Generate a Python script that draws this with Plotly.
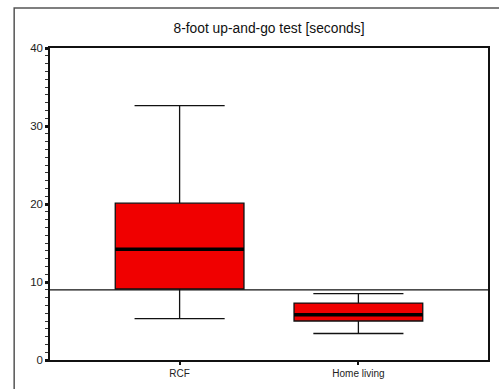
import plotly.graph_objects as go

categories = ["RCF", "Home living"]
lower_whisker = [5.3, 3.4]
q1 = [9.1, 5.0]
median = [14.2, 5.8]
q3 = [20.1, 7.3]
upper_whisker = [32.6, 8.5]
reference_value = 9.0
y_ticks = [0, 10, 20, 30, 40]
title_text = "8-foot up-and-go test [seconds]"

BOX_W = 0.72

fig = go.Figure()
fig.add_trace(go.Box(
    x=categories,
    q1=q1, median=median, q3=q3,
    lowerfence=lower_whisker, upperfence=upper_whisker,
    width=BOX_W,
    whiskerwidth=0.7,
    fillcolor="#f00000",
    line=dict(color="#111111", width=1.3),
    boxpoints=False,
    hoverinfo="skip",
    showlegend=False,
))

shapes = []
for i, m in enumerate(median):
    shapes.append(dict(type="line", xref="x", yref="y",
                       x0=i - BOX_W / 2, x1=i + BOX_W / 2, y0=m, y1=m,
                       line=dict(color="#000000", width=3.5)))
shapes.append(dict(type="line", xref="paper", yref="y", x0=0, x1=1,
                   y0=reference_value, y1=reference_value,
                   line=dict(color="#111111", width=1.2), layer="below"))
# outer frame of the figure
shapes.append(dict(type="rect", xref="paper", yref="paper",
                   x0=-0.0818, x1=1.3, y0=-0.3, y1=1.128,
                   line=dict(color="#555555", width=1.5), layer="below"))

fig.update_layout(
    width=499, height=389,
    margin=dict(l=50, r=9, t=48, b=29),
    paper_bgcolor="white", plot_bgcolor="white",
    font=dict(family="Liberation Sans, Arial, sans-serif", color="#111111"),
    title=dict(text=title_text, x=0.5, xref="paper", xanchor="center",
               y=1 - 28 / 389, yanchor="middle",
               font=dict(size=13.8, color="#111111")),
    shapes=shapes,
    showlegend=False,
)
fig.update_xaxes(
    range=[-0.725, 1.725],
    showgrid=False, zeroline=False,
    showline=True, linecolor="#111111", linewidth=1.5, mirror=True,
    ticks="outside", ticklen=3, tickwidth=2, tickcolor="#111111",
    tickfont=dict(size=10, color="#222222"),
)
fig.update_yaxes(
    range=[0, 40],
    tickvals=y_ticks,
    showgrid=False, zeroline=False,
    showline=True, linecolor="#111111", linewidth=1.5, mirror=True,
    ticks="outside", ticklen=3, tickwidth=2.5, tickcolor="#111111",
    minor=dict(dtick=1, ticks="outside", ticklen=3, tickwidth=1.2, tickcolor="#333333"),
    tickfont=dict(size=11.5, color="#222222"),
)

fig.write_html("out.html")
